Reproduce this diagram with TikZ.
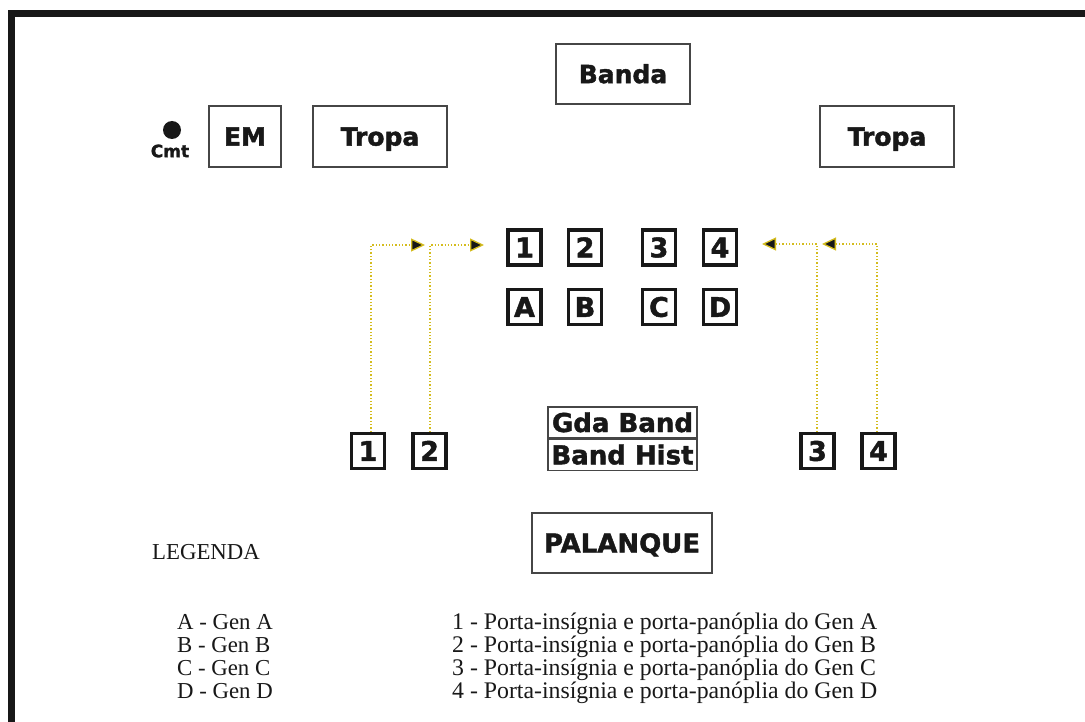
\documentclass[tikz,border=0pt]{standalone}
\usepackage{fontspec}
\setmainfont{Liberation Serif}
\newfontfamily\heavyfont{DejaVu Sans}[BoldFeatures={FakeBold=1.6}]
\usetikzlibrary{arrows.meta}
\definecolor{inkdark}{RGB}{24,24,24}
\definecolor{boxedge}{RGB}{70,70,70}
\definecolor{routeyellow}{RGB}{212,188,30}
\begin{document}
\begin{tikzpicture}[x=1pt,y=-1pt,
  unitbox/.style={draw=boxedge,line width=1.3pt,inner sep=0pt,
    text=inkdark,font=\heavyfont\bfseries\fontsize{25}{30}\selectfont,
    text height=18.2pt,text depth=0pt},
  marker/.style={draw=inkdark,line width=3.4pt,inner sep=0pt,
    minimum width=33pt,minimum height=35pt,text=inkdark,
    font=\heavyfont\bfseries\fontsize{27}{30}\selectfont,
    text height=19.7pt,text depth=0pt},
  legend/.style={anchor=base west,inner sep=0pt,text=inkdark,
    font=\fontsize{22.8}{26}\selectfont},
  route/.style={draw=routeyellow,line width=1.3pt,
    dash pattern=on 1.3pt off 2pt,
    -{Triangle[length=14pt,width=13pt,fill=inkdark]}},
]
\useasboundingbox (0,0) rectangle (1085,722);
\fill[white] (0,0) rectangle (1085,722);

% outer frame: left and top edges only
\draw[inkdark,line width=7pt,line join=miter]
  (11.5,722) -- (11.5,13.5) -- (1085,13.5);

% commander, staff, band and troops
\node[circle,fill=inkdark,minimum size=18pt,inner sep=0pt] (cmtdot) at (172,130) {};
\node[inner sep=0pt,text=inkdark,font=\heavyfont\bfseries\fontsize{17}{20}\selectfont,
  text height=12.4pt,text depth=0pt] (cmt) at (170,151) {Cmt};
\node[unitbox,minimum width=72pt,minimum height=61pt] (em) at (245,136.5) {EM};
\node[unitbox,minimum width=134pt,minimum height=61pt] (tropaL) at (380,136.5) {Tropa};
\node[unitbox,minimum width=134pt,minimum height=61pt] (tropaR) at (887,136.5) {Tropa};
\node[unitbox,minimum width=134pt,minimum height=60pt] (banda) at (623,74) {Banda};

% generals' positions
\node[marker] (p1) at (524.5,247.5) {1};
\node[marker] (p2) at (585,247.5) {2};
\node[marker] (p3) at (659,247.5) {3};
\node[marker] (p4) at (720,247.5) {4};
\node[marker] (gA) at (524.5,307) {A};
\node[marker] (gB) at (585,307) {B};
\node[marker] (gC) at (659,307) {C};
\node[marker] (gD) at (720,307) {D};

% bearers' starting positions
\node[marker] (s1) at (368,451) {1};
\node[marker] (s2) at (429.5,451) {2};
\node[marker] (s3) at (817.5,451) {3};
\node[marker] (s4) at (878.5,451) {4};

% flag guard and historical band
\node[unitbox,minimum width=149pt,minimum height=31pt,
  font=\heavyfont\bfseries\fontsize{26}{30}\selectfont,text height=19pt] (gda) at (622.5,422.5) {Gda Band};
\node[unitbox,minimum width=149pt,minimum height=31pt,anchor=north,
  font=\heavyfont\bfseries\fontsize{26}{30}\selectfont,text height=19pt] (hist) at (gda.south) {Band Hist};

% reviewing stand
\node[unitbox,minimum width=180pt,minimum height=60pt,
  font=\heavyfont\bfseries\fontsize{26}{30}\selectfont,text height=19pt] (palanque) at (622,543) {PALANQUE};

% bearers' routes
\coordinate (t1) at (425,245);
\coordinate (t2) at (484,245);
\coordinate (t3) at (762,244);
\coordinate (t4) at (822,244);
\draw[route] ([xshift=3pt]s1.north) |- (t1);
\draw[route] ([xshift=0.5pt]s2.north) |- (t2);
\draw[route] ([xshift=-0.5pt]s3.north) |- (t3);
\draw[route] ([xshift=-1.5pt]s4.north) |- (t4);

% legend
\node[legend] (leg) at (152,559) {LEGENDA};
\node[legend] (lA) at (177,629) {A - Gen A};
\node[legend] (lB) at (177,652) {B - Gen B};
\node[legend] (lC) at (177,675) {C - Gen C};
\node[legend] (lD) at (177,698) {D - Gen D};
\begin{scope}[legend/.append style={font=\fontsize{23.8}{26}\selectfont}]
\node[legend] (l1) at (452,629) {1 - Porta-insígnia e porta-panóplia do Gen A};
\node[legend] (l2) at (452,652) {2 - Porta-insígnia e porta-panóplia do Gen B};
\node[legend] (l3) at (452,675) {3 - Porta-insígnia e porta-panóplia do Gen C};
\node[legend] (l4) at (452,698) {4 - Porta-insígnia e porta-panóplia do Gen D};
\end{scope}
\end{tikzpicture}
\end{document}
